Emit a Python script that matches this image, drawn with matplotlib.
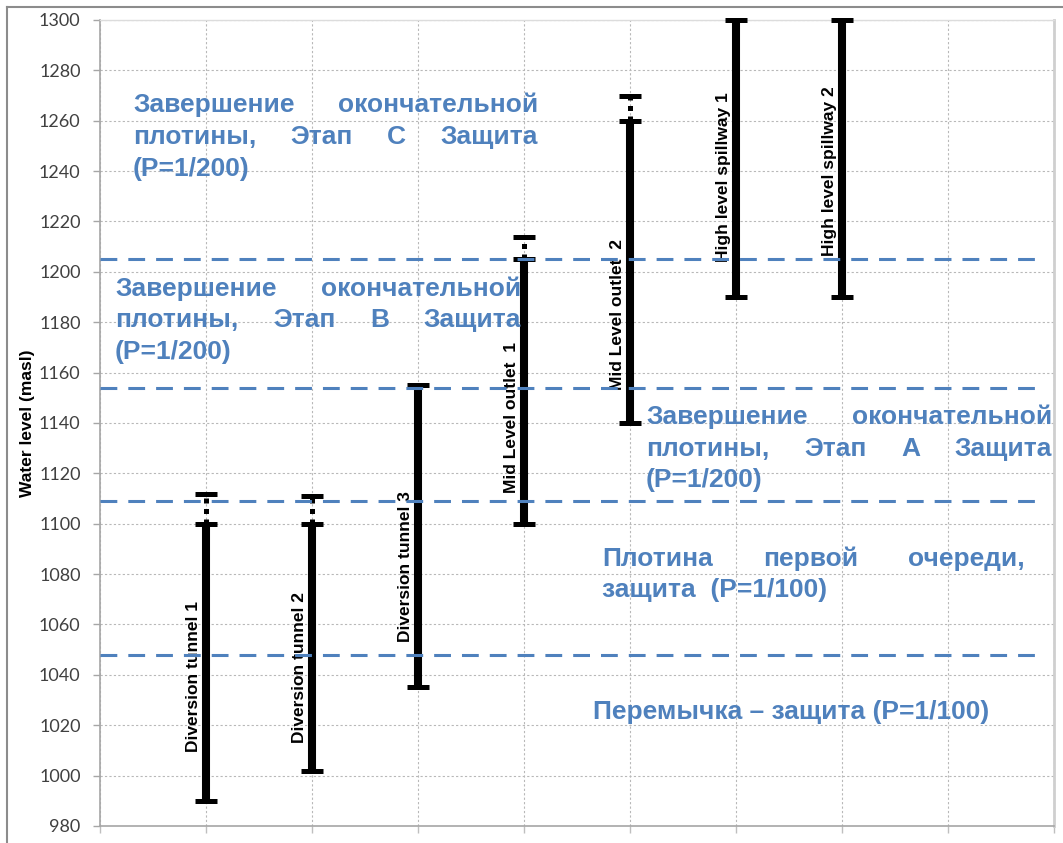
import matplotlib
matplotlib.use('Agg')
import matplotlib.pyplot as plt
from matplotlib.lines import Line2D

# ---------------- data ----------------
structures = ["Diversion tunnel 1", "Diversion tunnel 2", "Diversion tunnel 3",
              "Mid Level outlet  1", "Mid Level outlet  2",
              "High level spillway 1", "High level spillway 2"]
level_low = [990, 1002, 1035, 1100, 1140, 1190, 1190]
level_high = [1100, 1100, 1155, 1205, 1260, 1300, 1300]
level_ext = [1112, 1111, None, 1214, 1270, None, None]

protection_levels = [1205, 1154, 1109, 1048]

yticks = list(range(980, 1301, 20))
ylabel = "Water level (masl)"

block_c = ["Завершение окончательной", "плотины, Этап С Защита", "(P=1/200)"]
block_b = ["Завершение окончательной", "плотины, Этап В Защита", "(P=1/200)"]
block_a = ["Завершение окончательной", "плотины, Этап А Защита", "(P=1/200)"]
block_1 = ["Плотина первой очереди,", "защита  (P=1/100)"]
block_0 = ["Перемычка – защита (P=1/100)"]

# ---------------- layout ----------------
W, H = 1063, 843
fig = plt.figure(figsize=(W / 100, H / 100), dpi=100)
ax = fig.add_axes([100 / W, 1 - 826 / H, 954 / W, 806 / H])
ax.set_xlim(0, 9)
ax.set_ylim(980, 1300)
ax.set_yticks(yticks)
ax.set_xticks(range(0, 10))
ax.set_xticklabels([])
ax.grid(True, color='#b8b8b8', linestyle=(0, (2, 2)), linewidth=0.8)
ax.set_axisbelow(True)
ax.tick_params(axis='y', direction='out', length=5, width=1, color='#a6a6a6',
               pad=9, labelsize=13, labelcolor='#404040')
ax.tick_params(axis='x', direction='out', length=5, width=1, color='#bfbfbf')
for lab in ax.get_yticklabels():
    lab.set_family('Lato')
for s in ['left', 'bottom']:
    ax.spines[s].set_color('#a6a6a6')
    ax.spines[s].set_linewidth(1.2)
ax.spines['right'].set_color('#cfcfcf')
ax.spines['right'].set_linewidth(2)
ax.spines['top'].set_color('#dcdcdc')
ax.spines['top'].set_linewidth(1)
ax.set_ylabel(ylabel, fontsize=12.5, fontweight='bold', family='Liberation Sans',
              color='black')
ax.yaxis.set_label_coords(-0.068, 0.5)

label_y = [1039.5, 1043, 1083, 1142, 1183, 1237.5, 1240]

for i, name in enumerate(structures):
    x = i + 1
    lo, hi, ex = level_low[i], level_high[i], level_ext[i]
    ax.plot([x, x], [lo, hi], color='black', lw=5.8, solid_capstyle='butt',
            zorder=3, clip_on=False)
    ax.plot([x, x], [lo, hi], marker='_', ms=16, mew=3.6, color='black',
            linestyle='none', zorder=3, clip_on=False)
    if ex is not None:
        ax.plot([x, x], [hi, ex], color='black', lw=3.6,
                linestyle=(0, (1, 1.1)), zorder=3)
        ax.plot([x], [ex], marker='_', ms=16, mew=3.6, color='black',
                linestyle='none', zorder=3)
    ax.text(x - 0.12, label_y[i], name, rotation=90, ha='center', va='center',
            fontsize=12.5, fontweight='bold', family='Liberation Sans',
            color='black', zorder=3)

for v in protection_levels:
    ax.axhline(v, xmin=0, xmax=0.99, color='#4f81bd', lw=2.2,
               linestyle=(0, (5.5, 3.6)), zorder=5)

# outer frame
fig.add_artist(Line2D([7 / W, 7 / W], [0, 1 - 7 / H], transform=fig.transFigure,
                      color='#8c8c8c', lw=1.5))
fig.add_artist(Line2D([7 / W, 1], [1 - 7 / H, 1 - 7 / H], transform=fig.transFigure,
                      color='#8c8c8c', lw=1.5))

# ---------------- justified blue text ----------------
style = dict(fontsize=19, fontweight='bold', family='Liberation Sans',
             color='#4f81bd', va='baseline', ha='left', zorder=6)
renderer = fig.canvas.get_renderer()


def place_line(text, left, right, yc, justify):
    yb = yc + 9
    if not justify:
        fig.text(left / W, 1 - yb / H, text, **style)
        return
    words = text.split()
    ts = [fig.text(0, 0, w, **style) for w in words]
    widths = [t.get_window_extent(renderer).width for t in ts]
    gap = (right - left - sum(widths)) / (len(words) - 1)
    x = left
    for t, w in zip(ts, widths):
        t.set_position((x / W, 1 - yb / H))
        x += w + gap


def place_block(lines, left, right, ys):
    for k, (ln, yc) in enumerate(zip(lines, ys)):
        place_line(ln, left, right, yc, k < len(lines) - 1)


place_block(block_c, 133, 538, [103, 135, 167])
place_block(block_b, 115, 521, [287, 318, 350])
place_block(block_a, 646, 1052, [415, 447, 478])
place_block(block_1, 602, 1025, [557, 588])
place_block(block_0, 593, 992, [710])

fig.savefig('out.png', dpi=100)
